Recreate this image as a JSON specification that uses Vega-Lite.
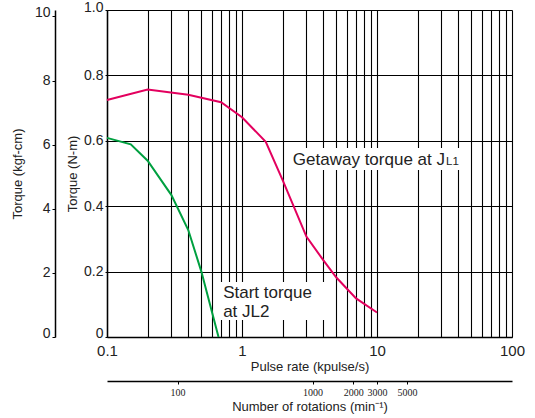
{
  "$schema": "https://vega.github.io/schema/vega-lite/v6.json",
  "width": 405,
  "height": 327,
  "autosize": "none",
  "padding": {"left": 107, "top": 10, "right": 23, "bottom": 81},
  "config": {
    "view": {"stroke": null},
    "font": "Liberation Sans",
    "axis": {
      "labelFont": "Liberation Sans",
      "titleFont": "Liberation Sans",
      "titleFontWeight": "normal",
      "labelColor": "#222",
      "titleColor": "#222",
      "domainColor": "#000",
      "tickColor": "#000",
      "gridColor": "#000",
      "gridOpacity": 1
    }
  },
  "datasets": {
    "curves": [
      {"series": "Getaway", "pulse": 0.1, "torque": 0.725},
      {"series": "Getaway", "pulse": 0.2, "torque": 0.757},
      {"series": "Getaway", "pulse": 0.4, "torque": 0.741},
      {"series": "Getaway", "pulse": 0.7, "torque": 0.718},
      {"series": "Getaway", "pulse": 1.0, "torque": 0.672},
      {"series": "Getaway", "pulse": 1.5, "torque": 0.597},
      {"series": "Getaway", "pulse": 2.0, "torque": 0.48},
      {"series": "Getaway", "pulse": 3.0, "torque": 0.307},
      {"series": "Getaway", "pulse": 4.0, "torque": 0.235},
      {"series": "Getaway", "pulse": 5.0, "torque": 0.182},
      {"series": "Getaway", "pulse": 7.0, "torque": 0.118},
      {"series": "Getaway", "pulse": 10.0, "torque": 0.075},
      {"series": "Start", "pulse": 0.1, "torque": 0.609},
      {"series": "Start", "pulse": 0.15, "torque": 0.589},
      {"series": "Start", "pulse": 0.2, "torque": 0.539},
      {"series": "Start", "pulse": 0.3, "torque": 0.434},
      {"series": "Start", "pulse": 0.4, "torque": 0.327},
      {"series": "Start", "pulse": 0.5, "torque": 0.2},
      {"series": "Start", "pulse": 0.67, "torque": 0.0}
    ],
    "boxes": [
      {"pulse": 2.08, "pulse2": 44, "torque": 0.511, "torque2": 0.578},
      {"pulse": 0.62, "pulse2": 4.4, "torque": 0.052, "torque2": 0.168}
    ],
    "labels": [
      {"pulse": 2.38, "torque": 0.526, "label": "Getaway torque at J"},
      {"pulse": 0.725, "torque": 0.118, "label": "Start torque"},
      {"pulse": 0.725, "torque": 0.062, "label": "at JL2"}
    ],
    "sublabels": [
      {"pulse": 32.5, "torque": 0.526, "label": "L1"}
    ],
    "kgf": [{"kgf": 0}, {"kgf": 10.2}],
    "rpm": [{"rpm": 30}, {"rpm": 30000}]
  },
  "layer": [
    {
      "encoding": {
        "x": {
          "field": "pulse",
          "type": "quantitative",
          "scale": {"type": "log", "domain": [0.1, 100], "nice": false},
          "axis": {
            "values": [0.1, 0.2, 0.3, 0.4, 0.5, 0.6, 0.7, 0.8, 0.9, 1, 2, 3, 4, 5, 6, 7, 8, 9, 10, 20, 30, 40, 50, 60, 70, 80, 90, 100],
            "labelExpr": "datum.value == 0.1 || datum.value == 1 || datum.value == 10 || datum.value == 100 ? format(datum.value, '~g') : ''",
            "grid": true,
            "gridWidth": 1.1,
            "ticks": false,
            "domainWidth": 1.5,
            "labelFontSize": 15,
            "labelPadding": 6,
            "labelFlush": false,
            "labelOverlap": false,
            "title": "Pulse rate (kpulse/s)",
            "titleFontSize": 13,
            "titlePadding": 2
          }
        },
        "y": {
          "field": "torque",
          "type": "quantitative",
          "scale": {"domain": [0, 1], "nice": false},
          "axis": {
            "values": [0, 0.2, 0.4, 0.6, 0.8, 1],
            "labelExpr": "datum.value == 0 ? '0' : format(datum.value, '.1f')",
            "labelBaseline": {"condition": {"test": "datum.value == 0", "value": "alphabetic"}, "value": "middle"},
            "labelOffset": {"condition": {"test": "datum.value == 1", "value": -3}, "value": 0},
            "grid": true,
            "gridWidth": 1.1,
            "tickSize": 2,
            "labelPadding": 2,
            "domainWidth": 1.5,
            "labelFontSize": 14,
            "labelFlush": false,
            "title": "Torque (N-m)",
            "titleFontSize": 13,
            "titlePadding": 4
          }
        }
      },
      "layer": [
        {
          "data": {"name": "boxes"},
          "mark": {"type": "rect", "color": "white"},
          "encoding": {
            "x2": {"field": "pulse2"},
            "y2": {"field": "torque2"}
          }
        },
        {
          "data": {"name": "curves"},
          "mark": {"type": "line", "strokeWidth": 2},
          "encoding": {
            "color": {
              "field": "series",
              "type": "nominal",
              "scale": {"domain": ["Getaway", "Start"], "range": ["#e3005e", "#00a040"]},
              "legend": null
            }
          }
        },
        {
          "data": {"name": "labels"},
          "mark": {"type": "text", "align": "left", "baseline": "alphabetic", "fontSize": 17, "color": "#222"},
          "encoding": {"text": {"field": "label"}}
        },
        {
          "data": {"name": "sublabels"},
          "mark": {"type": "text", "align": "left", "baseline": "alphabetic", "fontSize": 11.5, "color": "#222"},
          "encoding": {"text": {"field": "label"}}
        }
      ]
    },
    {
      "data": {"name": "kgf"},
      "mark": {"type": "point", "opacity": 0},
      "encoding": {
        "y": {
          "field": "kgf",
          "type": "quantitative",
          "scale": {"domain": [0, 10.2], "nice": false},
          "axis": {
            "orient": "left",
            "offset": 52,
            "values": [0, 2, 4, 6, 8, 10],
            "labelBaseline": {"condition": {"test": "datum.value == 0 || datum.value == 10", "value": "alphabetic"}, "value": "middle"},
            "grid": false,
            "tickSize": 3,
            "labelPadding": 2,
            "labelFontSize": 14,
            "labelFlush": false,
            "domainWidth": 1.5,
            "title": "Torque (kgf-cm)",
            "titleFontSize": 13,
            "titlePadding": 10
          }
        }
      }
    },
    {
      "data": {"name": "rpm"},
      "mark": {"type": "point", "opacity": 0},
      "encoding": {
        "x": {
          "field": "rpm",
          "type": "quantitative",
          "scale": {"type": "log", "domain": [30, 30000], "nice": false},
          "axis": {
            "orient": "bottom",
            "offset": 44,
            "values": [100, 1000, 2000, 3000, 5000],
            "format": "d",
            "grid": false,
            "tickSize": 3,
            "labelPadding": 3,
            "labelFont": "Liberation Sans Narrow",
            "labelFontSize": 10,
            "labelFlush": false,
            "domainWidth": 1.5,
            "title": "Number of rotations (min⁻¹)",
            "titleFontSize": 13,
            "titlePadding": 3
          }
        }
      }
    }
  ],
  "resolve": {"scale": {"x": "independent", "y": "independent"}}
}
